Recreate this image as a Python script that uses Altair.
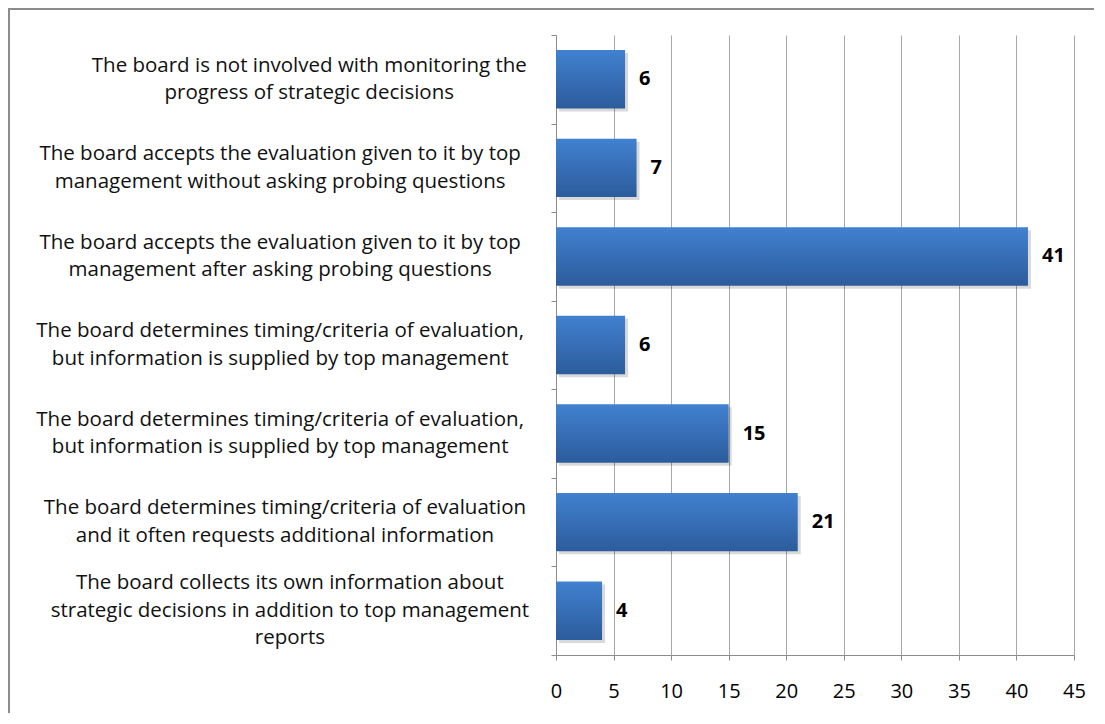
import altair as alt
import pandas as pd

categories = [
    "The board is not involved with monitoring the\nprogress of strategic decisions",
    "The board accepts the evaluation given to it by top\nmanagement without asking probing questions",
    "The board accepts the evaluation given to it by top\nmanagement after asking probing questions",
    "The board determines timing/criteria of evaluation,\nbut information is supplied by top management",
    "The board determines timing/criteria of evaluation,\nbut information is supplied by top management",
    "The board determines timing/criteria of evaluation\nand it often requests additional information",
    "The board collects its own information about\nstrategic decisions in addition to top management\nreports",
]
values = [6, 7, 41, 6, 15, 21, 4]
x_ticks = [0, 5, 10, 15, 20, 25, 30, 35, 40, 45]

ids = [f"c{i}" for i in range(len(categories))]
df = pd.DataFrame({
    "id": ids,
    "label": categories,
    "value": values,
    "maxlen": [max(len(s) for s in c.split("\n")) for c in categories],
    "nlines": [len(c.split("\n")) for c in categories],
})

FONT = "Open Sans"
AXIS_GRAY = "#8C8C8C"
LINE_H = 27.5
W, H = 518, 620
HALF_STEP = H / len(categories) / 2

y_axis = alt.Axis(title=None, labels=False, tickBand="extent", ticks=True,
                  tickSize=5, tickColor=AXIS_GRAY, domainColor=AXIS_GRAY,
                  grid=False)
y_scale = alt.Scale(paddingInner=0, paddingOuter=0)
y_enc = alt.Y("id:N", sort=None, scale=y_scale, axis=y_axis)

x_enc = alt.X("value:Q", scale=alt.Scale(domain=[0, 45], nice=False),
              axis=alt.Axis(values=x_ticks, title=None, grid=True,
                            gridColor="#A8A8A8", gridWidth=1, tickSize=5,
                            tickColor=AXIS_GRAY, domainColor=AXIS_GRAY,
                            labelFont=FONT, labelFontSize=20, labelFlush=False,
                            labelColor="#000000", labelPadding=21))

base = alt.Chart(df)

shadow = base.mark_bar(height={"band": 0.66}, color="#000000", opacity=0.15,
                       xOffset=3, x2Offset=3, yOffset=3).encode(x=x_enc, y=y_enc)

bars = base.mark_bar(
    height={"band": 0.66},
    color=alt.Gradient(gradient="linear", x1=0, x2=0, y1=0, y2=1,
                       stops=[alt.GradientStop(color="#4181D0", offset=0),
                              alt.GradientStop(color="#2C5C9C", offset=1)]),
).encode(x=x_enc, y=y_enc)

value_text = base.mark_text(align="left", baseline="middle", dx=14,
                            fontWeight="bold", fontSize=20, font=FONT,
                            color="#000000").encode(
    x=x_enc, y=y_enc, text="value:Q")

cat_text = base.transform_calculate(
    cx="-28 - datum.maxlen * 4.86",
    dy=f"{HALF_STEP} - (datum.nlines - 1) * {LINE_H / 2}",
).mark_text(align="center", baseline="middle", lineBreak="\n", font=FONT,
            fontSize=20.5, lineHeight=LINE_H, color="#111111").encode(
    x=alt.X("cx:Q", scale=None, axis=None),
    y=y_enc,
    yOffset=alt.YOffset("dy:Q", scale=None),
    text="label:N")

border = alt.Chart(pd.DataFrame({"a": [0]})).mark_rect(
    fillOpacity=0, stroke="#8C8C8C", strokeWidth=2).encode(
    x=alt.value(-547), x2=alt.value(700), y=alt.value(-26), y2=alt.value(800))

chart = alt.layer(border, shadow, bars, value_text, cat_text).properties(
    width=W, height=H,
    autosize=alt.AutoSizeParams(type="none"),
    padding={"left": 548, "top": 27, "right": 20, "bottom": 58},
).configure_view(stroke=None)

chart.save("out.html", embed_options={"renderer": "svg", "actions": False})
